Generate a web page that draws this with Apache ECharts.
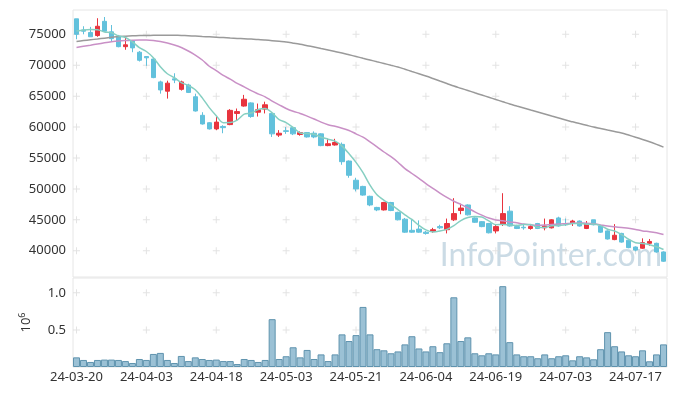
<!DOCTYPE html>
<html><head><meta charset="utf-8">
<script src="https://cdn.jsdelivr.net/npm/echarts@6/dist/echarts.min.js"></script>
<style>html,body{margin:0;padding:0;background:#fff}#c{width:677px;height:396px}</style>
</head><body><div id="c"></div>
<script>
const dates = ['24-03-20','24-03-21','24-03-22','24-03-25','24-03-26','24-03-27','24-03-28','24-03-29',
'24-04-01','24-04-02','24-04-03','24-04-04','24-04-05','24-04-08','24-04-09','24-04-11','24-04-12','24-04-15','24-04-16','24-04-17','24-04-18','24-04-19','24-04-22','24-04-23','24-04-24','24-04-25','24-04-26','24-04-29','24-04-30',
'24-05-02','24-05-03','24-05-07','24-05-08','24-05-09','24-05-10','24-05-13','24-05-14','24-05-16','24-05-17','24-05-20','24-05-21','24-05-22','24-05-23','24-05-24','24-05-27','24-05-28','24-05-29','24-05-30','24-05-31',
'24-06-03','24-06-04','24-06-05','24-06-07','24-06-10','24-06-11','24-06-12','24-06-13','24-06-14','24-06-17','24-06-18','24-06-19','24-06-20','24-06-21','24-06-24','24-06-25','24-06-26','24-06-27','24-06-28',
'24-07-01','24-07-02','24-07-03','24-07-04','24-07-05','24-07-08','24-07-09','24-07-10','24-07-11','24-07-12','24-07-15','24-07-16','24-07-17','24-07-18','24-07-19','24-07-22','24-07-23'];

const opens = [77500,75700,75300,74800,77100,75400,74700,73000,73900,72100,71400,71000,67300,65800,67800,66100,66800,64900,61900,60700,
59700,60100,60400,62200,63400,63900,62400,62900,62200,58700,59400,59900,58800,59100,59000,58900,57000,57100,57200,54500,
51400,50400,48800,47000,46600,47800,46200,45100,43300,43500,43000,43100,43900,43400,45000,46500,47400,45300,44700,44400,
43200,44300,46400,43900,43800,43600,44400,43700,43700,45300,44400,44400,44800,43600,45000,44000,43200,41800,42800,41700,
40600,40400,41200,41200,39800];
const closes = [75000,75500,74600,76300,75500,74300,73000,73300,72800,70800,71200,68000,66000,67100,67600,67300,65600,62600,60500,59700,
60800,59900,62700,62500,64500,61700,62800,63600,58900,59000,59300,58900,59100,58400,58400,57000,57300,57500,54400,52200,
50000,49000,47400,46600,47800,46500,45000,43000,43000,43000,42800,43400,43700,44400,46000,46900,45800,44600,43900,42900,
43900,46000,44000,43600,43700,43900,43600,44000,45000,44000,44300,44800,44000,44300,44200,43000,41900,42500,41400,40500,
40100,41300,41500,39800,38300];
const lows = [74200,75000,74600,74600,75400,73800,72900,72500,72100,70600,69900,67900,65400,64600,67100,65900,65500,62500,60400,59600,
59500,59000,60300,61100,63300,61500,61700,62200,58400,58400,58900,58700,58600,58300,58200,56900,56900,57000,53900,51800,
49600,48900,47200,46400,46500,46400,44900,42900,42900,42900,42600,42900,43500,42800,44800,45900,45700,44500,43800,42800,
42800,44000,43900,43500,43400,43400,43500,43300,43600,43900,44000,44000,43900,43500,44100,42900,41800,41700,41300,40400,
39900,40300,40800,39700,38200];
const highs = [77500,76300,76200,77600,77800,76500,74900,74400,74000,72300,71400,71200,67500,67500,68700,67500,67000,65400,62400,60800,
61700,60300,62900,63000,65200,64000,63800,64100,62300,59500,60000,60000,59300,59200,59300,59000,58100,58100,57500,54600,
51800,50500,48900,47100,47900,47900,46300,45300,45100,44900,43200,43700,44200,45200,48500,47600,47500,45400,44800,44500,
44300,49300,47200,44200,44200,44200,44500,45200,45100,45500,45200,45000,44900,44800,45000,44100,43300,44300,42900,41800,
40700,42000,41900,41300,39900];
const volumes = [0.13,0.095,0.068,0.095,0.10,0.10,0.095,0.08,0.054,0.108,0.095,0.176,0.19,0.095,0.054,0.149,0.08,0.13,0.108,0.095,
0.10,0.08,0.08,0.04,0.108,0.095,0.068,0.095,0.645,0.108,0.145,0.266,0.13,0.23,0.108,0.17,0.08,0.17,0.44,0.35,
0.43,0.81,0.44,0.24,0.225,0.185,0.21,0.305,0.415,0.25,0.21,0.28,0.20,0.32,0.94,0.35,0.40,0.185,0.158,0.185,
0.17,1.09,0.335,0.17,0.145,0.145,0.118,0.17,0.118,0.145,0.158,0.09,0.145,0.13,0.104,0.24,0.47,0.28,0.21,0.158,
0.145,0.225,0.077,0.17,0.305];
const ma5 = [75530,75700,75780,75750,75380,75240,74740,74480,73780,72840,72220,71220,69760,68620,67980,67200,66720,66040,64720,63140,
61840,60700,60720,61120,62080,62260,62840,63020,62300,61200,60720,59940,59040,58940,58820,58360,58040,57720,56920,55680,
54280,52620,50600,49040,48160,47460,46660,45780,45060,44100,43360,43040,43180,43460,44060,44880,45360,45540,45440,44820,
44220,44260,44140,44080,44240,44240,43760,43760,44040,44100,44180,44420,44420,44280,44320,44060,43480,43180,42600,41860,
41280,41160,40960,40640,40200];
const ma20 = [72860,73060,73240,73430,73620,73790,73920,74000,74050,74080,74080,74000,73830,73590,73270,72860,72300,71650,70840,69835,
69125,68345,67750,67060,66510,65880,65370,64885,64190,63600,63005,62550,62205,61770,61310,60795,60380,60125,59820,59445,
58905,58360,57595,56800,55965,55205,54315,53285,52490,51690,50865,50090,49320,48620,48000,47495,46920,46275,45750,45285,
44980,44830,44660,44510,44305,44175,44105,44155,44255,44305,44380,44450,44465,44460,44370,44175,43980,43875,43750,43630,
43440,43205,43080,42890,42620];
const ma60 = [73830,73980,74120,74240,74380,74510,74640,74700,74750,74790,74810,74830,74840,74850,74840,74810,74770,74710,74640,74590,
74530,74470,74400,74340,74280,74220,74160,74070,73970,73860,73750,73570,73380,73160,72940,72700,72460,72220,71970,71690,
71410,71120,70840,70560,70280,69990,69710,69350,68980,68620,68250,67850,67440,67040,66630,66270,65910,65540,65180,64820,
64450,64090,63720,63400,63080,62750,62430,62110,61780,61460,61130,60850,60560,60280,60000,59760,59510,59270,59030,58700,
58360,58000,57620,57200,56760];
const priceTicks = [40000,45000,50000,55000,60000,65000,70000,75000];
const volTicks = [0.5,1.0];
const labelStep = 10;

const candleData = dates.map((d,i)=>[opens[i],closes[i],lows[i],highs[i]]);
const tickCats = dates.filter((d,i)=>i%labelStep===0);
const crossP = [], crossV = [];
tickCats.forEach(c=>{ priceTicks.forEach(v=>crossP.push([c,v])); volTicks.forEach(v=>crossV.push([c,v])); });
const plus = 'path://M3,0H4V3H7V4H4V7H3V4H0V3H3Z';
const font = 'Noto Sans';

const chart = echarts.init(document.getElementById('c'), null, {renderer:'canvas'});
chart.setOption({
  animation:false,
  backgroundColor:'#fff',
  textStyle:{fontFamily:font},
  grid:[
    {left:73,right:10,top:10,height:267,show:true,borderColor:'#e6e6e6',borderWidth:1,backgroundColor:'transparent'},
    {left:73,right:10,top:278,height:89,show:true,borderColor:'#e6e6e6',borderWidth:1,backgroundColor:'transparent'}
  ],
  xAxis:[
    {type:'category',data:dates,gridIndex:0,boundaryGap:true,axisLine:{show:false},axisTick:{show:false},axisLabel:{show:false},splitLine:{show:false}},
    {type:'category',data:dates,gridIndex:1,boundaryGap:true,axisLine:{show:false},axisTick:{show:false},
     axisLabel:{interval:labelStep-1,color:'#333',fontSize:13,margin:4,fontFamily:font},splitLine:{show:false}}
  ],
  yAxis:[
    {type:'value',gridIndex:0,min:35750,max:78930,axisLine:{show:false},axisTick:{show:false},splitLine:{show:false},
     axisLabel:{customValues:priceTicks,color:'#333',fontSize:13,margin:7,fontFamily:font,formatter:v=>String(Math.round(v))}},
    {type:'value',gridIndex:1,min:0,max:1.2,axisLine:{show:false},axisTick:{show:false},splitLine:{show:false},
     axisLabel:{customValues:volTicks,color:'#333',fontSize:13,margin:7,fontFamily:font,formatter:v=>Number(v).toFixed(1)},
     name:'{a|10}{b|6}',nameLocation:'middle',nameGap:38,nameRotate:90,
     nameTextStyle:{rich:{a:{fontSize:13,color:'#333',fontFamily:font},b:{fontSize:9,color:'#333',fontFamily:font,padding:[0,0,8,0]}}}}
  ],
  graphic:[{type:'text',right:15,top:240,silent:true,z:0,
    style:{text:'InfoPointer.com',fontSize:32,fontFamily:'Lato',fill:'rgba(160,190,208,0.55)'}}],
  series:[
    {type:'scatter',xAxisIndex:0,yAxisIndex:0,data:crossP,symbol:plus,symbolSize:7,itemStyle:{color:'#dcdcdc'},silent:true,z:0},
    {type:'scatter',xAxisIndex:1,yAxisIndex:1,data:crossV,symbol:plus,symbolSize:7,itemStyle:{color:'#dcdcdc'},silent:true,z:0},
    {type:'candlestick',xAxisIndex:0,yAxisIndex:0,data:candleData,barWidth:5,
     itemStyle:{color:'#e8343e',color0:'#62c1dc',borderColor:'#e8343e',borderColor0:'#62c1dc',borderWidth:1}},
    {type:'line',xAxisIndex:0,yAxisIndex:0,data:ma60,smooth:0.3,showSymbol:false,lineStyle:{color:'#9a9a9a',width:1.5}},
    {type:'line',xAxisIndex:0,yAxisIndex:0,data:ma20,smooth:0.3,showSymbol:false,lineStyle:{color:'#c990c6',width:1.5}},
    {type:'line',xAxisIndex:0,yAxisIndex:0,data:ma5,smooth:0.3,showSymbol:false,lineStyle:{color:'#86cfc2',width:1.5}},
    {type:'bar',xAxisIndex:1,yAxisIndex:1,data:volumes,barCategoryGap:'0%',
     itemStyle:{color:'rgba(130,178,202,0.8)',borderColor:'#5f93ae',borderWidth:1}}
  ]
});
</script></body></html>
